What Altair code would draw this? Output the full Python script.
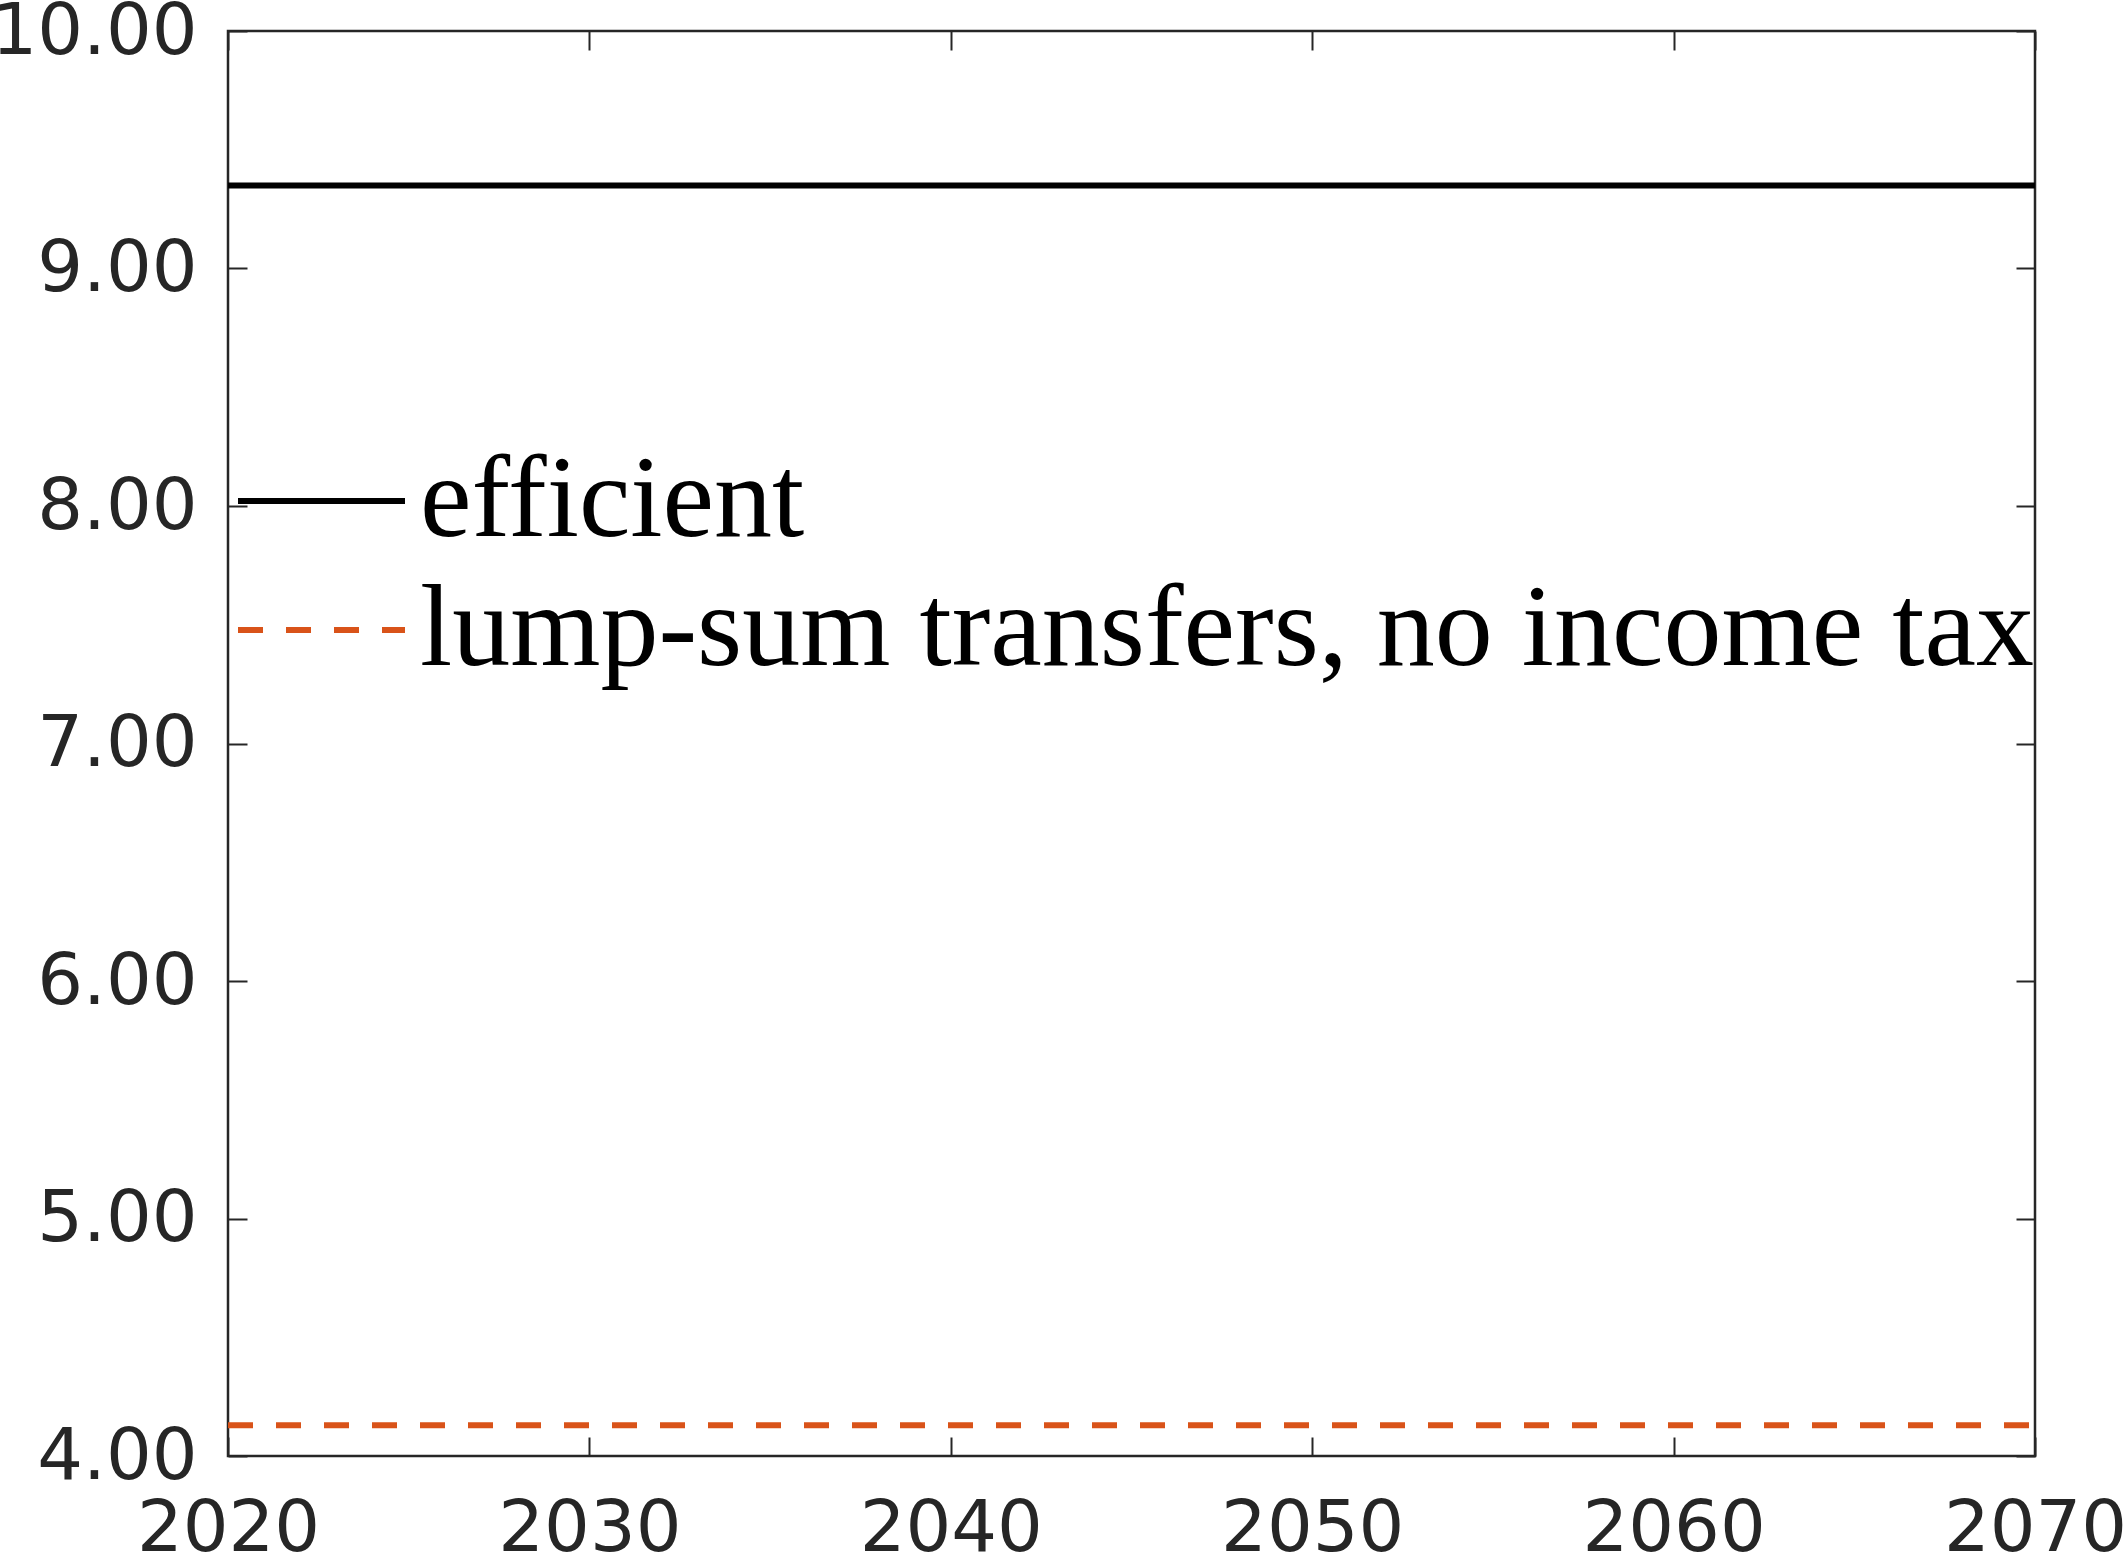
import altair as alt
import pandas as pd

years = [2020, 2030, 2040, 2050, 2060, 2070]
efficient = [9.35, 9.35, 9.35, 9.35, 9.35, 9.35]
lump_sum = [4.13, 4.13, 4.13, 4.13, 4.13, 4.13]
series_names = ["efficient", "lump-sum transfers, no income tax"]
x_ticks = [2020, 2030, 2040, 2050, 2060, 2070]
y_ticks = [4, 5, 6, 7, 8, 9, 10]

rows = []
for y, a, b in zip(years, efficient, lump_sum):
    rows.append({"year": y, "value": a, "series": series_names[0]})
    rows.append({"year": y, "value": b, "series": series_names[1]})
df = pd.DataFrame(rows)

TICK = 19
AX_COLOR = "#262626"

xs = alt.Scale(domain=[2020, 2070], nice=False, zero=False)
ys = alt.Scale(domain=[4, 10], nice=False, zero=False)

common_axis = dict(domain=False, grid=False, title=None, tickColor=AX_COLOR, tickWidth=2,
                   tickSize=TICK, offset=-TICK, labelFont="DejaVu Sans", labelFontSize=72,
                   labelColor=AX_COLOR, labelLimit=2000)

bottom_axis = alt.Axis(orient="bottom", values=x_ticks, format="d", labelPadding=37,
                       labelFlush=False, labelOverlap=False, **common_axis)
left_axis = alt.Axis(orient="left", values=y_ticks, format=".2f", labelPadding=31,
                     labelFlush=False, labelOverlap=False, **common_axis)
top_axis = alt.Axis(orient="top", values=x_ticks, labels=False, **common_axis)
right_axis = alt.Axis(orient="right", values=y_ticks, labels=False, **common_axis)

legend = alt.Legend(title=None, orient="none", legendX=35.5, legendY=412,
                    symbolType="M-2,0H2", symbolSize=6972, symbolStrokeWidth=6,
                    labelFont="Liberation Serif", labelFontSize=116, labelColor="black",
                    labelOffset=40.5, labelLimit=3000, rowPadding=13, padding=0)

lines = alt.Chart(df).mark_line(strokeWidth=6, clip=True).encode(
    x=alt.X("year:Q", scale=xs, axis=bottom_axis),
    y=alt.Y("value:Q", scale=ys, axis=left_axis),
    color=alt.Color("series:N", scale=alt.Scale(domain=series_names, range=["#000000", "#D95319"]), legend=legend),
    strokeDash=alt.StrokeDash("series:N", scale=alt.Scale(domain=series_names, range=[[1, 0], [25, 23]]), legend=legend),
)

ghost = alt.Chart(df).mark_line(opacity=0).encode(
    x=alt.X("year:Q", scale=xs, axis=top_axis),
    y=alt.Y("value:Q", scale=ys, axis=right_axis),
    detail="series:N",
)

chart = alt.layer(lines, ghost).resolve_axis(x="independent", y="independent").properties(
    width=1807, height=1425,
    autosize=alt.AutoSizeParams(type="none"),
    padding={"left": 228, "top": 31, "right": 90, "bottom": 98},
    background="white",
).configure_view(stroke=AX_COLOR, strokeWidth=2.5)

chart.save("out.html", embed_options={"renderer": "svg", "actions": False})
